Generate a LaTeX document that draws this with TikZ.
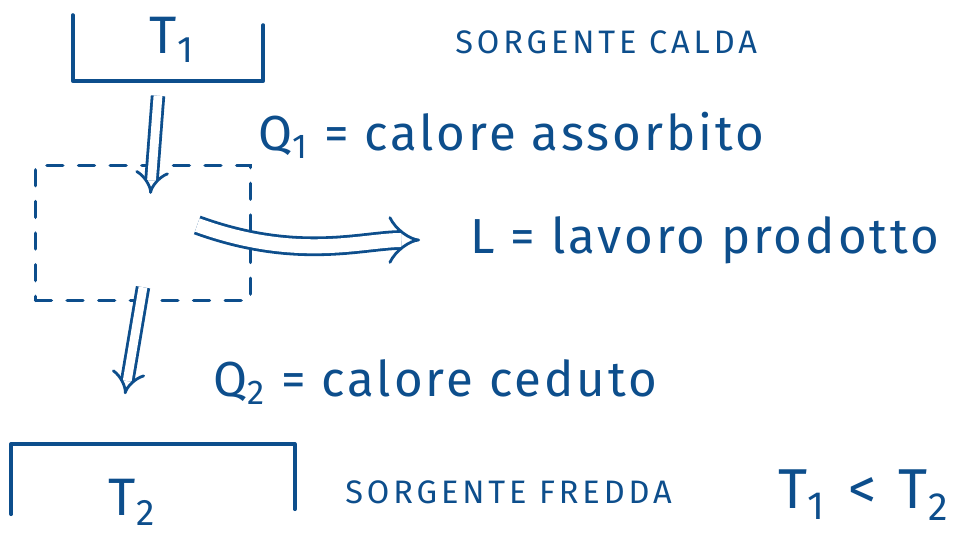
\documentclass[tikz,border=0pt]{standalone}
\usepackage{fontspec}
\setmainfont{Fira Sans}
\usepackage{tikz}
\usetikzlibrary{arrows.meta,positioning,calc}
\definecolor{penna}{HTML}{0D4E8C}
\tikzset{
  tratto/.style    = {draw=penna, line width=2.2pt, line cap=round, line join=round},
  sorgente/.style  = {inner sep=0pt},
  macchina/.style  = {draw=penna, line width=2pt, dash pattern=on 9pt off 9pt, line cap=round},
  freccia/.style   = {draw=penna, line width=1.6pt, double=white, double distance=5pt,
                      -{Implies[length=10pt]}},
  scritta/.style   = {text=penna, font=\fontsize{28}{32}\selectfont\addfontfeature{LetterSpace=6},
                      anchor=west, inner sep=0pt},
  maiuscolo/.style = {text=penna, font=\fontsize{18.5}{22}\selectfont\addfontfeature{LetterSpace=12},
                      anchor=west, inner sep=0pt},
  temp/.style      = {text=penna, font=\fontsize{30}{34}\selectfont, inner sep=0pt},
}

\begin{document}
\begin{tikzpicture}[x=0.02cm, y=-0.02cm]
  \useasboundingbox (0,0) rectangle (960,534);
  % sorgenti
  \node[sorgente, minimum width=3.8cm, minimum height=1.3cm] (calda) at (168,48) {};
  \draw[tratto] (calda.north west) -- (calda.south west) -- (calda.south east)
    -- ([yshift=-0.2cm]calda.north east);
  \node[temp] (t1) at (172,40) {T\textsubscript{1}};
  \node[sorgente, minimum width=5.66cm, minimum height=1.5cm] (fredda) at (153,482) {};
  \draw[tratto] ([yshift=-1.4cm]fredda.north west) -- (fredda.north west) -- (fredda.north east)
    -- ([yshift=-1.3cm]fredda.north east);
  \node[temp] (t2) at (132,502) {T\textsubscript{2}};
  % macchina
  \node[macchina, minimum width=4.3cm, minimum height=2.7cm] (motore) at (143,233) {};
  % scritte
  \node[maiuscolo] (txtcalda) at (455,42) {SORGENTE CALDA};
  \node[scritta] (assorbito) at (258,135) {Q\textsubscript{1} = calore assorbito};
  \node[scritta] (lavoro) at (470,240) {L = lavoro prodotto};
  \node[scritta] (ceduto) at (213,382) {Q\textsubscript{2} = calore ceduto};
  \node[maiuscolo] (txtfredda) at (345,492) {SORGENTE FREDDA};
  \node[temp, anchor=west, font=\fontsize{32}{36}\selectfont\addfontfeature{LetterSpace=14}]
    (disug) at (778,495) {T\textsubscript{1} < T\textsubscript{2}};
  % flussi
  \draw[freccia] ([xshift=-0.2cm,yshift=-0.3cm]calda.south) -- ([xshift=0.15cm,yshift=-0.6cm]motore.north);
  \draw[freccia] ([yshift=0.3cm]motore.south) -- ([xshift=-0.56cm,yshift=1cm]fredda.north);
  \draw[freccia, double distance=8pt, shorten >=1cm] ([xshift=-1.1cm,yshift=0.16cm]motore.east)
    to[out=-20, in=180] (lavoro.west);
\end{tikzpicture}
\end{document}
